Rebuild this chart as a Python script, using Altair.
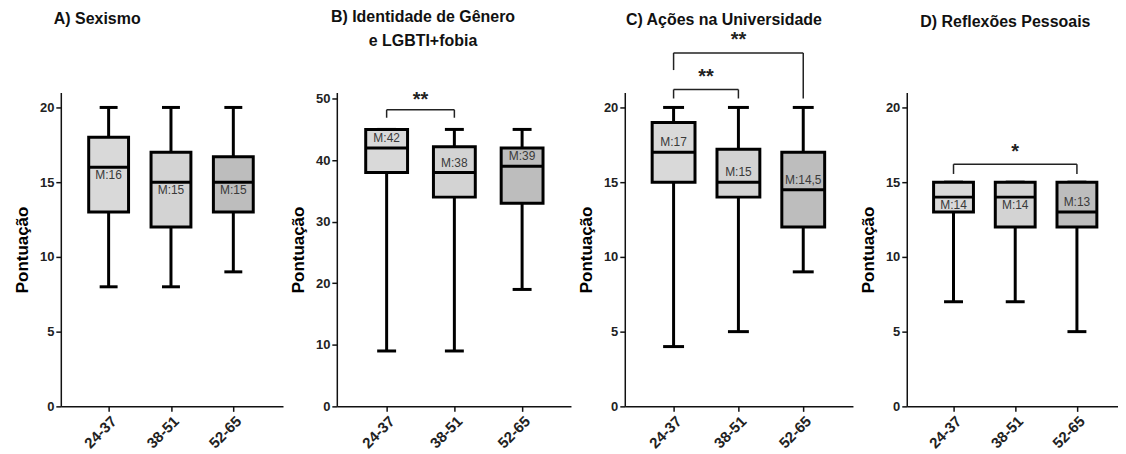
import altair as alt
import pandas as pd

groups = ["24-37", "38-51", "52-65"]
panel_titles = [["A) Sexismo"], ["B) Identidade de Gênero", "e LGBTI+fobia"],
                ["C) Ações na Universidade"], ["D) Reflexões Pessoais"]]
y_max = [21, 51, 21, 21]
y_ticks = [[0, 5, 10, 15, 20], [0, 10, 20, 30, 40, 50], [0, 5, 10, 15, 20], [0, 5, 10, 15, 20]]

mins = [[8, 8, 9], [9, 9, 19], [4, 5, 9], [7, 7, 5]]
q1s = [[13, 12, 13], [38, 34, 33], [15, 14, 12], [13, 12, 12]]
medians = [[16, 15, 15], [42, 38, 39], [17, 15, 14.5], [14, 14, 13]]
q3s = [[18, 17, 16.7], [45, 42.2, 42], [19, 17.2, 17], [15, 15, 15]]
maxs = [[20, 20, 20], [45, 45, 45], [20, 20, 20], [15, 15, 15]]
median_labels = [["M:16", "M:15", "M:15"], ["M:42", "M:38", "M:39"],
                 ["M:17", "M:15", "M:14,5"], ["M:14", "M:14", "M:13"]]
label_side = [["below", "below", "below"], ["above", "above", "above"],
              ["above", "above", "above"], ["below", "below", "above"]]
box_colors = ["#d9d9d9", "#d3d3d3", "#bdbdbd"]

# significance brackets
bracket_panel = [1, 2, 2, 3]
bracket_from = [0, 0, 0, 0]
bracket_to = [1, 1, 2, 2]
bracket_line = [48.2, 21.2, 23.65, 16.2]
bracket_foot_from = [46.9, 20.6, 22.5, 15.55]
bracket_foot_to = [46.9, 20.6, 20.6, 15.55]
bracket_stars = ["**", "**", "**", "*"]
bracket_star_y = [50.0, 22.1, 24.6, 17.1]

# layout (pixels / scale extents)
panel_width = [223, 235, 229, 212]
panel_height = 315
x_domains = [[-0.687, 2.717], [-0.662, 2.648], [-0.676, 2.69], [-0.677, 2.585]]
box_size = [40, 42, 43, 40]
cap_size = [18, 19, 21, 19]
title_anchor = ["start", "middle", "middle", "middle"]
title_dx = [-7, -31, -15, -7]
title_offset = [66, 41, 2, 63]

FONT = "Liberation Sans"
label_expr = "[" + ",".join("'%s'" % g for g in groups) + "][datum.value]"


def panel(p):
    df = pd.DataFrame({
        "idx": [0, 1, 2],
        "group": groups,
        "mn": mins[p], "q1": q1s[p], "med": medians[p], "q3": q3s[p], "mx": maxs[p],
        "lab": median_labels[p], "side": label_side[p], "fill": box_colors,
    })
    xs = alt.Scale(domain=x_domains[p], nice=False, zero=False)
    ys = alt.Scale(domain=[0, y_max[p]], nice=False)
    x = alt.X("idx:Q", scale=xs,
              axis=alt.Axis(values=[0, 1, 2], labelExpr=label_expr, title=None,
                            labelAngle=-45, labelFontSize=15, grid=False))
    y = alt.Y("mn:Q", scale=ys,
              axis=alt.Axis(values=y_ticks[p], title="Pontuação", grid=False))
    base = alt.Chart(df)
    whisk = base.mark_rule(color="black", strokeWidth=3).encode(x=x, y=y, y2="mx:Q")
    cap_lo = base.mark_tick(orient="horizontal", size=cap_size[p], thickness=3,
                            color="black", opacity=1).encode(x=x, y=y)
    cap_hi = base.mark_tick(orient="horizontal", size=cap_size[p], thickness=3,
                            color="black", opacity=1).encode(x=x, y=alt.Y("mx:Q", scale=ys))
    box = base.mark_bar(size=box_size[p], stroke="black", strokeWidth=3, opacity=1).encode(
        x=x, y=alt.Y("q1:Q", scale=ys), y2="q3:Q",
        fill=alt.Fill("fill:N", scale=None))
    med = base.mark_tick(orient="horizontal", size=box_size[p], thickness=3,
                         color="black", opacity=1).encode(x=x, y=alt.Y("med:Q", scale=ys))
    lab_below = base.transform_filter(alt.datum.side == "below").mark_text(
        font=FONT, fontSize=12, color="#3a3a3a", baseline="top", dy=3
    ).encode(x=x, y=alt.Y("med:Q", scale=ys), text="lab:N")
    lab_above = base.transform_filter(alt.datum.side == "above").mark_text(
        font=FONT, fontSize=12, color="#3a3a3a", baseline="bottom", dy=-3
    ).encode(x=x, y=alt.Y("med:Q", scale=ys), text="lab:N")
    layers = [whisk, cap_lo, cap_hi, box, med, lab_below, lab_above]

    rows = [i for i in range(len(bracket_panel)) if bracket_panel[i] == p]
    if rows:
        bdf = pd.DataFrame({
            "a": [bracket_from[i] for i in rows],
            "b": [bracket_to[i] for i in rows],
            "line": [bracket_line[i] for i in rows],
            "fa": [bracket_foot_from[i] for i in rows],
            "fb": [bracket_foot_to[i] for i in rows],
            "stars": [bracket_stars[i] for i in rows],
            "sy": [bracket_star_y[i] for i in rows],
        })
        bb = alt.Chart(bdf)
        xa = alt.X("a:Q", scale=xs)
        horiz = bb.mark_rule(color="#222", strokeWidth=1.5).encode(
            x=xa, x2="b:Q", y=alt.Y("line:Q", scale=ys))
        leg_a = bb.mark_rule(color="#222", strokeWidth=1.5).encode(
            x=xa, y=alt.Y("fa:Q", scale=ys), y2="line:Q")
        leg_b = bb.mark_rule(color="#222", strokeWidth=1.5).encode(
            x=alt.X("b:Q", scale=xs), y=alt.Y("fb:Q", scale=ys), y2="line:Q")
        stars = bb.transform_calculate(mid="(datum.a + datum.b) / 2").mark_text(
            font=FONT, fontSize=20, fontWeight="bold", color="#222",
            baseline="alphabetic", dy=7
        ).encode(x=alt.X("mid:Q", scale=xs), y=alt.Y("sy:Q", scale=ys), text="stars:N")
        layers += [horiz, leg_a, leg_b, stars]

    return alt.layer(*layers).properties(
        width=panel_width[p], height=panel_height,
        title=alt.TitleParams(text=panel_titles[p], anchor=title_anchor[p],
                              dx=title_dx[p], offset=title_offset[p], frame="group",
                              font=FONT, fontSize=16, fontWeight="bold",
                              lineHeight=24, color="#111"),
    )


chart = alt.HConcatChart(
    hconcat=[panel(p) for p in range(4)], spacing=54, bounds="flush",
    padding={"left": 5, "top": 0, "right": 0, "bottom": 2},
).configure_view(stroke=None).configure_axis(
    domainColor="#111", domainWidth=1.5, tickColor="#111", tickWidth=1.5, tickSize=5,
    labelFont=FONT, labelFontSize=13, labelFontWeight="bold", labelColor="#222",
    titleFont=FONT, titleFontSize=17, titleFontWeight="bold", titleColor="#000",
    titlePadding=8, labelPadding=2,
)

chart.save("out.html", embed_options={"renderer": "svg", "actions": False})
